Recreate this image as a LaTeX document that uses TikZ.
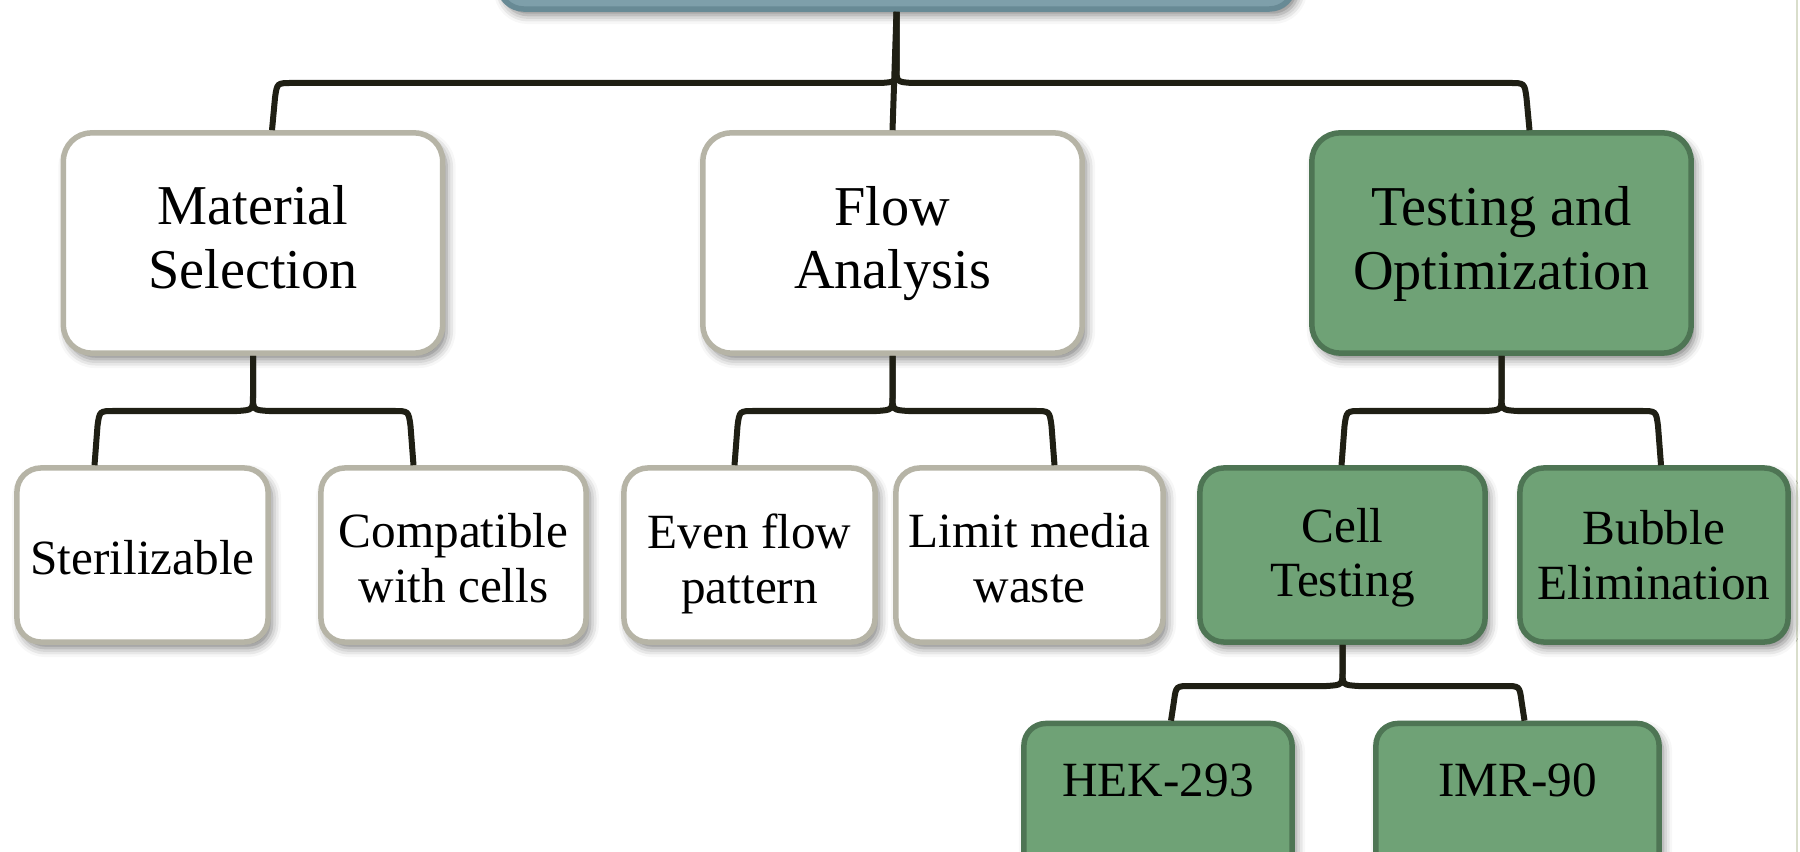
\documentclass[tikz,border=0pt]{standalone}
\usepackage{fontspec}
\setmainfont{Liberation Serif}
\usetikzlibrary{calc,shadows.blur}
\definecolor{wbord}{HTML}{B6B4A6}
\definecolor{gfill}{HTML}{6FA276}
\definecolor{gbord}{HTML}{4E7554}
\definecolor{tfill}{HTML}{7E9FAA}
\definecolor{tbord}{HTML}{688A95}
\definecolor{linkc}{HTML}{1F1F14}
\definecolor{edgec}{HTML}{D9DECB}
\tikzset{
 shad/.style={blur shadow={shadow xshift=0.04cm, shadow yshift=-0.06cm, shadow blur radius=0.09cm, shadow opacity=50}},
 box/.style={rectangle, rounded corners=0.28cm, line width=0.055cm, align=center, inner sep=0pt, shad},
 wbox/.style={box, draw=wbord, fill=white},
 gbox/.style={box, draw=gbord, fill=gfill},
 lvlone/.style={minimum width=3.79cm, minimum height=2.2cm, font=\fontsize{16}{18}\selectfont},
 lvltwo/.style={minimum height=1.74cm, rounded corners=0.24cm, font=\fontsize{14}{15.6}\selectfont},
 lvlthree/.style={minimum height=1.65cm, rounded corners=0.22cm},
 link/.style={draw=linkc, line width=0.06cm},
}
\newcommand\bracearm[5]{%
 \draw[link] (#1.south) -- ($(#1.south |- #3)+(0,-16)$)
   .. controls ($(#1.south |- #3)+(0,-1)$) .. ($(#1.south |- #3)+({(#5)*16},0)$)
   -- ($(#2.north |- #3)+({#4-(#5)*20},0)$)
   .. controls ($(#2.north |- #3)+({#4-(#5)*5},0)$) .. ($(#2.north |- #3)+({#4-(#5)*3},15)$)
   -- ($(#2.north)+(#4,0)$);}
\newcommand\fl[1]{\rule{0pt}{#1}}
\begin{document}
\begin{tikzpicture}[x=0.01cm, y=-0.01cm]
\useasboundingbox (0,0) rectangle (1800,852);
\draw[edgec, line width=0.02cm] (1797,0) -- (1797,852);
% top box (cut off by the page edge)
\node[box, fill=tfill, draw=tbord, minimum width=7.95cm, minimum height=1.2cm, rounded corners=0.25cm] (top) at (896.5,-51) {};
% level 1
\node[wbox, lvlone] (ms) at (253,243) {Material\\Selection\vphantom{y}};
\node[wbox, lvlone] (fa) at (892.5,243) {\fl{11.6pt}Flow\\Analysis};
\node[gbox, lvlone] (to) at (1501.5,243) {\fl{11.6pt}Testing and\\Optimization};
% level 2
\node[wbox, lvltwo, minimum width=2.51cm] (st) at (142.5,555) {\fl{11pt}Sterilizable};
\node[wbox, lvltwo, minimum width=2.65cm] (cc) at (453.5,555) {\fl{11.6pt}Compatible\\with cells};
\node[wbox, lvltwo, minimum width=2.51cm] (ef) at (749.5,555) {\fl{14.7pt}Even flow\\pattern};
\node[wbox, lvltwo, minimum width=2.67cm] (lm) at (1029.5,555) {\fl{11.6pt}Limit media\\waste};
\node[gbox, lvltwo, minimum width=2.85cm] (ct) at (1342.5,555) {\fl{11.3pt}Cell\\Testing};
\node[gbox, lvltwo, minimum width=2.68cm] (be) at (1654,555) {Bubble\\Elimination};
% level 3
\node[gbox, lvlthree, minimum width=2.68cm,
      label={[font=\fontsize{14}{15.6}\selectfont, yshift=0.26cm]center:HEK-293}] (hek) at (1158,806) {};
\node[gbox, lvlthree, minimum width=2.83cm,
      label={[font=\fontsize{14}{15.6}\selectfont, yshift=0.26cm]center:IMR-90}] (imr) at (1517.5,806) {};
% brace levels
\coordinate (h0) at (0,83);
\coordinate (h1) at (0,411);
\coordinate (h2) at (0,686);
% connectors
\bracearm{top}{ms}{h0}{19}{-1}
\bracearm{top}{to}{h0}{28}{1}
\draw[link] (top.south) -- (fa.north);
\bracearm{ms}{st}{h1}{-48}{-1}
\bracearm{ms}{cc}{h1}{-40}{1}
\bracearm{fa}{ef}{h1}{-15}{-1}
\bracearm{fa}{lm}{h1}{25}{1}
\bracearm{to}{ct}{h1}{-1}{-1}
\bracearm{to}{be}{h1}{7}{1}
\bracearm{ct}{hek}{h2}{13}{-1}
\bracearm{ct}{imr}{h2}{7}{1}
\end{tikzpicture}
\end{document}
